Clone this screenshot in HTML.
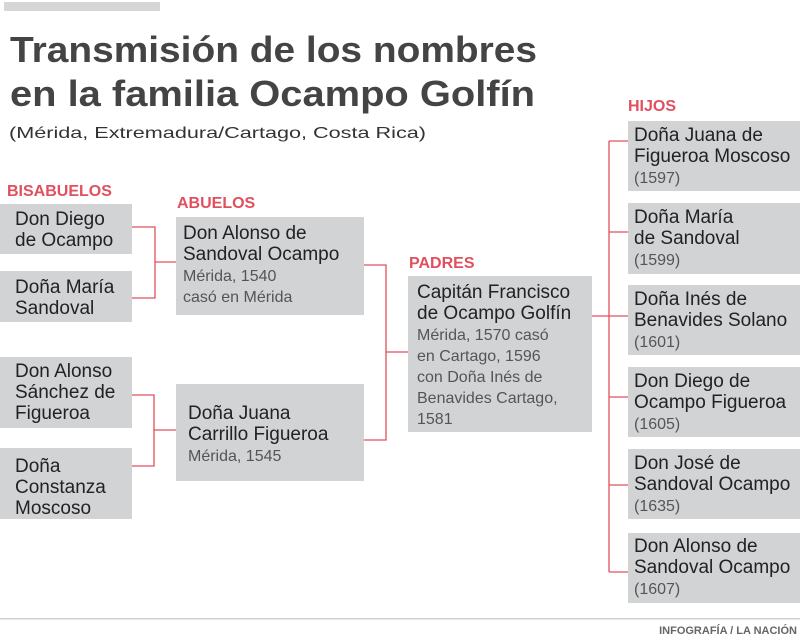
<!DOCTYPE html>
<html><head><meta charset="utf-8"><style>
html,body{margin:0;padding:0;background:#fff;}
svg{display:block;}
.t{font-family:"Liberation Sans",sans-serif;font-weight:bold;fill:#444;}
.n{font-family:"Liberation Sans",sans-serif;font-size:19px;fill:#222;}
.s{font-family:"Liberation Sans",sans-serif;font-size:16px;fill:#555;}
.h{font-family:"Liberation Sans",sans-serif;font-size:16px;font-weight:bold;fill:#e0505e;}
</style></head><body>
<svg width="800" height="642" viewBox="0 0 800 642" xmlns="http://www.w3.org/2000/svg">
<rect x="4" y="2" width="156" height="9" fill="#d6d6d6"/>
<text class="t" x="10" y="62" font-size="36" textLength="527" lengthAdjust="spacingAndGlyphs">Transmisión de los nombres</text>
<text class="t" x="10" y="106" font-size="36" textLength="525" lengthAdjust="spacingAndGlyphs">en la familia Ocampo Golfín</text>
<text class="s" x="9" y="138" font-size="18" fill="#333" textLength="417" lengthAdjust="spacingAndGlyphs" style="fill:#333">(Mérida, Extremadura/Cartago, Costa Rica)</text>

<g fill="none" stroke="#e0505e" stroke-width="1.3">
<path d="M132 227H155V298H132M155 262H176"/>
<path d="M132 395H154V466H132M154 430H176"/>
<path d="M364 265H386V440H364M386 352H408"/>
<path d="M592 316H628M609 141V572M609 141H628M609 232H628M609 397H628M609 485H628M609 572H628"/>
</g>

<text class="h" x="7" y="196">BISABUELOS</text>
<text class="h" x="177" y="208">ABUELOS</text>
<text class="h" x="409" y="268">PADRES</text>
<text class="h" x="628" y="111">HIJOS</text>

<g fill="#d1d3d4">
<rect x="0" y="204" width="132" height="50"/>
<rect x="0" y="271" width="132" height="51"/>
<rect x="0" y="357" width="132" height="71"/>
<rect x="0" y="448" width="132" height="71"/>
<rect x="176" y="217" width="188" height="98"/>
<rect x="176" y="384" width="188" height="97"/>
<rect x="408" y="276" width="184" height="156"/>
<rect x="628" y="121" width="172" height="70"/>
<rect x="628" y="203" width="172" height="71"/>
<rect x="628" y="285" width="172" height="70"/>
<rect x="628" y="367" width="172" height="70"/>
<rect x="628" y="449" width="172" height="70"/>
<rect x="628" y="533" width="172" height="70"/>
</g>

<text class="n" x="15" y="225">Don Diego</text>
<text class="n" x="15" y="246">de Ocampo</text>
<text class="n" x="15" y="293">Doña María</text>
<text class="n" x="15" y="314">Sandoval</text>
<text class="n" x="15" y="377">Don Alonso</text>
<text class="n" x="15" y="398">Sánchez de</text>
<text class="n" x="15" y="419">Figueroa</text>
<text class="n" x="15" y="472">Doña</text>
<text class="n" x="15" y="493">Constanza</text>
<text class="n" x="15" y="514">Moscoso</text>

<text class="n" x="183" y="239">Don Alonso de</text>
<text class="n" x="183" y="260">Sandoval Ocampo</text>
<text class="s" x="183" y="281">Mérida, 1540</text>
<text class="s" x="183" y="302">casó en Mérida</text>

<text class="n" x="188" y="419">Doña Juana</text>
<text class="n" x="188" y="440">Carrillo Figueroa</text>
<text class="s" x="188" y="461">Mérida, 1545</text>

<text class="n" x="417" y="298">Capitán Francisco</text>
<text class="n" x="417" y="319">de Ocampo Golfín</text>
<text class="s" x="417" y="340">Mérida, 1570 casó</text>
<text class="s" x="417" y="361">en Cartago, 1596</text>
<text class="s" x="417" y="382">con Doña Inés de</text>
<text class="s" x="417" y="403">Benavides Cartago,</text>
<text class="s" x="417" y="424">1581</text>

<text class="n" x="634" y="141">Doña Juana de</text>
<text class="n" x="634" y="162">Figueroa Moscoso</text>
<text class="s" x="634" y="183">(1597)</text>
<text class="n" x="634" y="223">Doña María</text>
<text class="n" x="634" y="244">de Sandoval</text>
<text class="s" x="634" y="265">(1599)</text>
<text class="n" x="634" y="305">Doña Inés de</text>
<text class="n" x="634" y="326">Benavides Solano</text>
<text class="s" x="634" y="347">(1601)</text>
<text class="n" x="634" y="387">Don Diego de</text>
<text class="n" x="634" y="408">Ocampo Figueroa</text>
<text class="s" x="634" y="429">(1605)</text>
<text class="n" x="634" y="469">Don José de</text>
<text class="n" x="634" y="490">Sandoval Ocampo</text>
<text class="s" x="634" y="511">(1635)</text>
<text class="n" x="634" y="552">Don Alonso de</text>
<text class="n" x="634" y="573">Sandoval Ocampo</text>
<text class="s" x="634" y="594">(1607)</text>

<rect x="0" y="618" width="800" height="1.5" fill="#d0d0d0"/>
<text x="797" y="634" text-anchor="end" font-family="Liberation Sans,sans-serif" font-size="11" font-weight="bold" fill="#666">INFOGRAFÍA / LA NACIÓN</text>
</svg>
</body></html>
